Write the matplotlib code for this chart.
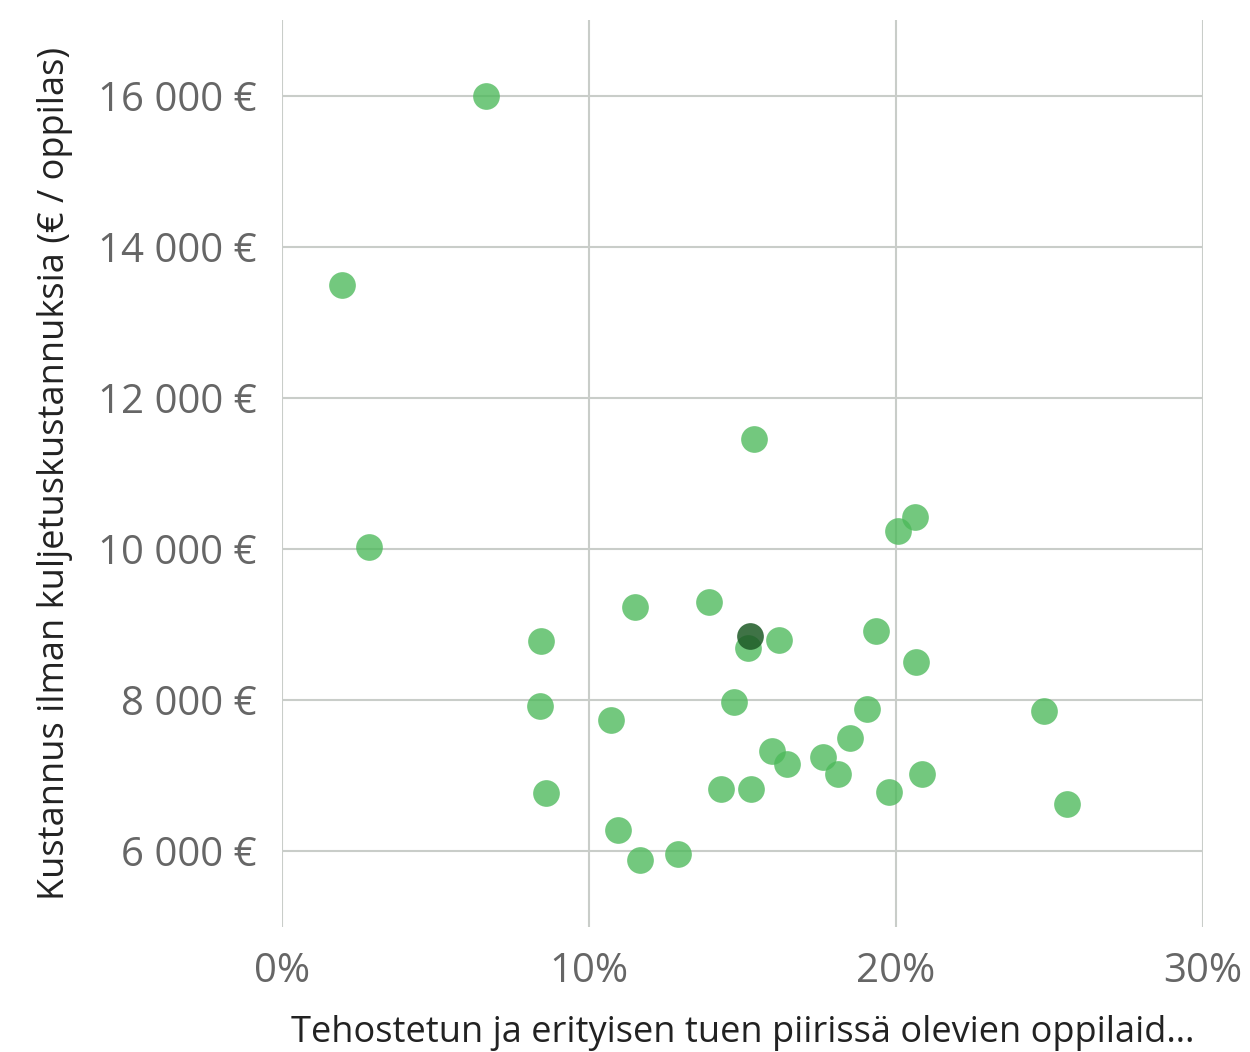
import matplotlib
matplotlib.use("Agg")
import matplotlib.pyplot as plt
from matplotlib.ticker import FuncFormatter

plt.rcParams['font.family'] = ['Open Sans', 'DejaVu Sans']

# share of pupils in intensified / special support (%), cost per pupil (EUR)
tuki_pct = [6.65, 1.95, 2.83, 15.37, 20.62, 20.07, 11.5, 13.9, 8.44, 15.18,
            16.19, 19.35, 20.65, 8.4, 10.72, 14.72, 19.06, 24.82, 15.96, 16.45,
            17.62, 18.5, 18.11, 20.85, 8.6, 14.3, 15.28, 19.77, 25.57, 10.94,
            11.66, 12.9]
kustannus = [16000, 13490, 10030, 11460, 10420, 10240, 9230, 9300, 8780, 8690,
             8800, 8920, 8500, 7920, 7740, 7970, 7880, 7850, 7320, 7150,
             7250, 7500, 7020, 7020, 6770, 6820, 6820, 6780, 6620, 6280,
             5880, 5960]

# highlighted municipality
valittu_pct = [15.24]
valittu_kust = [8850]

x_ticks = [0, 10, 20, 30]
y_ticks = [6000, 8000, 10000, 12000, 14000, 16000]

fig = plt.figure(figsize=(12.5, 10.52), dpi=100)
ax = fig.add_axes([0.2256, 0.119, 0.7368, 0.862])

ax.scatter(tuki_pct, kustannus, s=370, color='#4cb95a', alpha=0.78,
           linewidths=0, zorder=3)
ax.scatter(valittu_pct, valittu_kust, s=370, color='#1d5a26', alpha=0.85,
           linewidths=0, zorder=4)

ax.set_xlim(0, 30)
ax.set_ylim(5000, 17000)
ax.set_xticks(x_ticks)
ax.set_yticks(y_ticks)
ax.xaxis.set_major_formatter(FuncFormatter(lambda v, p: "%d%%" % v))
ax.yaxis.set_major_formatter(
    FuncFormatter(lambda v, p: "{:,.0f} €".format(v).replace(",", " ")))

ax.grid(True, color='#c9cdc9', linewidth=1.5, zorder=0)
for s in ax.spines.values():
    s.set_visible(False)
ax.tick_params(length=0, labelsize=29, labelcolor='#666666', pad=18)

ax.set_xlabel("Tehostetun ja erityisen tuen piirissä olevien oppilaid…",
              fontsize=26, color='#222222', labelpad=16)
ax.set_ylabel("Kustannus ilman kuljetuskustannuksia (€ / oppilas)",
              fontsize=26, color='#222222', labelpad=18)

fig.savefig("out.png", dpi=100)
